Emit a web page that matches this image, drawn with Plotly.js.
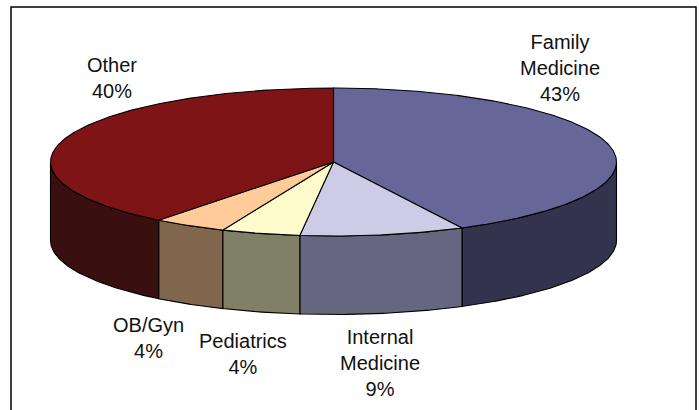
<!DOCTYPE html>
<html>
<head>
<meta charset="utf-8">
<script src="https://cdn.plot.ly/plotly-3.0.1.min.js"></script>
<style>html,body{margin:0;padding:0;background:#fff;overflow:hidden}#chart{width:699px;height:410px}</style>
</head>
<body>
<div id="chart"></div>
<script>
// Data
const categories = ['Family<br>Medicine', 'Internal<br>Medicine', 'Pediatrics', 'OB/Gyn', 'Other'];
const percentLabels = [43, 9, 4, 4, 40];
const shares = [42.5, 9.4, 4.5, 4.2, 39.4];

// Styles
const topColors  = ['#666699', '#CCCCE6', '#FFFBCC', '#FFCC99', '#7F1416'];
const sideColors = ['#33334D', '#666680', '#808066', '#80664D', '#3A0F10'];
const labelX = [560, 380, 243, 148, 111.5];
const labelY = [67.5, 362.5, 354, 338, 78];

// Pie geometry in page pixels
const cx = 333.5, cy = 162, rx = 283, ry = 74, depth = 78.5;
const FRONT_START = Math.PI / 2, FRONT_END = 3 * Math.PI / 2;

const px = t => cx + rx * Math.sin(t);
const py = t => cy - ry * Math.cos(t);

function arc(a, b) {
  const n = Math.max(2, Math.ceil((b - a) / 0.01));
  const out = [];
  for (let i = 0; i <= n; i++) out.push(a + (b - a) * i / n);
  return out;
}

function poly(xs, ys, fill) {
  return {
    type: 'scatter', mode: 'lines', x: xs, y: ys, fill: 'toself', fillcolor: fill,
    line: {color: '#000000', width: 1.1}, hoverinfo: 'skip', showlegend: false
  };
}

const total = shares.reduce((s, v) => s + v, 0);
let running = 0;
const slices = shares.map(v => {
  const a = running / total * 2 * Math.PI;
  running += v;
  return [a, running / total * 2 * Math.PI];
});

const walls = [], tops = [];
slices.forEach(([a, b], i) => {
  const s = Math.max(a, FRONT_START), e = Math.min(b, FRONT_END);
  if (e > s) {
    const ts = arc(s, e), rev = ts.slice().reverse();
    walls.push(poly(
      ts.map(px).concat(rev.map(px), [px(s)]),
      ts.map(py).concat(rev.map(t => py(t) + depth), [py(s)]),
      sideColors[i]
    ));
  }
  const ts = arc(a, b);
  tops.push(poly(
    [cx].concat(ts.map(px), [cx]),
    [cy].concat(ts.map(py), [cy]),
    topColors[i]
  ));
});

const annotations = categories.map((c, i) => ({
  x: labelX[i], y: labelY[i], xref: 'x', yref: 'y', showarrow: false,
  text: c + '<br>' + percentLabels[i] + '%',
  align: 'center', xanchor: 'center', yanchor: 'middle',
  font: {family: '"Liberation Sans", Arial, sans-serif', size: 20, color: '#111111'}
}));

const layout = {
  width: 699, height: 410,
  margin: {l: 0, r: 0, t: 0, b: 0},
  paper_bgcolor: '#ffffff', plot_bgcolor: '#ffffff',
  xaxis: {range: [0, 699], visible: false, fixedrange: true},
  yaxis: {range: [410, 0], visible: false, fixedrange: true},
  showlegend: false,
  annotations: annotations,
  shapes: [{type: 'rect', xref: 'x', yref: 'y', x0: 11, x1: 696, y0: 7, y1: 430,
            line: {color: '#000000', width: 1.5}, fillcolor: 'rgba(0,0,0,0)', layer: 'below'}]
};

Plotly.newPlot('chart', walls.concat(tops), layout, {displayModeBar: false, staticPlot: true});
</script>
</body>
</html>
